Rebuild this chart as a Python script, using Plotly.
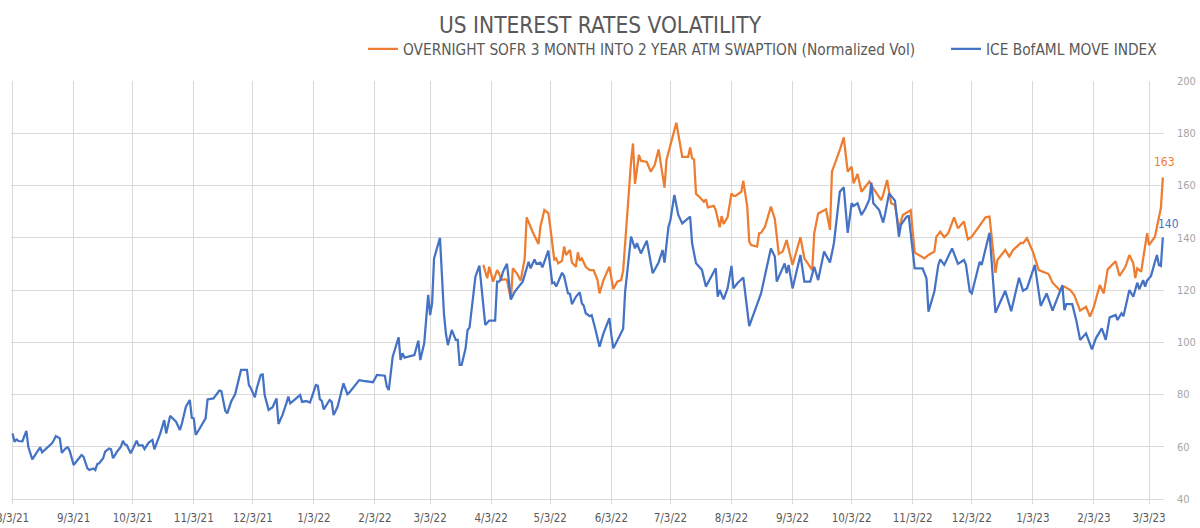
import plotly.graph_objects as go

TITLE = "US INTEREST RATES VOLATILITY"
SWAPTION_NAME = "OVERNIGHT SOFR 3 MONTH INTO 2 YEAR ATM SWAPTION (Normalized Vol)"
MOVE_NAME = "ICE BofAML MOVE INDEX"

move_dates = [
    "2021-08-03", "2021-08-04", "2021-08-05", "2021-08-06", "2021-08-08", "2021-08-10", "2021-08-11",
    "2021-08-13", "2021-08-15", "2021-08-17", "2021-08-18", "2021-08-20", "2021-08-23", "2021-08-24",
    "2021-08-25", "2021-08-27", "2021-08-28", "2021-08-30", "2021-08-31", "2021-09-01", "2021-09-03",
    "2021-09-05", "2021-09-07", "2021-09-08", "2021-09-10", "2021-09-11", "2021-09-13", "2021-09-14",
    "2021-09-15", "2021-09-16", "2021-09-18", "2021-09-19", "2021-09-21", "2021-09-22", "2021-09-23",
    "2021-09-24", "2021-09-25", "2021-09-27", "2021-09-28", "2021-09-29", "2021-09-30", "2021-10-02",
    "2021-10-03", "2021-10-05", "2021-10-06", "2021-10-08", "2021-10-09", "2021-10-11", "2021-10-13",
    "2021-10-14", "2021-10-17", "2021-10-19", "2021-10-20", "2021-10-22", "2021-10-25", "2021-10-27",
    "2021-10-28", "2021-10-29", "2021-10-30", "2021-11-01", "2021-11-02", "2021-11-03", "2021-11-04",
    "2021-11-06", "2021-11-09", "2021-11-10", "2021-11-13", "2021-11-16", "2021-11-17", "2021-11-19",
    "2021-11-20", "2021-11-22", "2021-11-24", "2021-11-27", "2021-11-30", "2021-12-01", "2021-12-02",
    "2021-12-04", "2021-12-05", "2021-12-07", "2021-12-08", "2021-12-09", "2021-12-11", "2021-12-13",
    "2021-12-15", "2021-12-16", "2021-12-18", "2021-12-20", "2021-12-21", "2021-12-22", "2021-12-25",
    "2021-12-27", "2021-12-28", "2021-12-30", "2022-01-01", "2022-01-04", "2022-01-05", "2022-01-06",
    "2022-01-07", "2022-01-08", "2022-01-11", "2022-01-12", "2022-01-13", "2022-01-15", "2022-01-18",
    "2022-01-20", "2022-01-21", "2022-01-26", "2022-01-28", "2022-02-02", "2022-02-04", "2022-02-08",
    "2022-02-09", "2022-02-10", "2022-02-12", "2022-02-15", "2022-02-16", "2022-02-17", "2022-02-18",
    "2022-02-23", "2022-02-25", "2022-02-26", "2022-02-28", "2022-03-02", "2022-03-03", "2022-03-04",
    "2022-03-05", "2022-03-08", "2022-03-10", "2022-03-11", "2022-03-12", "2022-03-14", "2022-03-16",
    "2022-03-17", "2022-03-18", "2022-03-19", "2022-03-21", "2022-03-22", "2022-03-23", "2022-03-24",
    "2022-03-26", "2022-03-28", "2022-03-30", "2022-03-31", "2022-04-02", "2022-04-05", "2022-04-06",
    "2022-04-07", "2022-04-08", "2022-04-09", "2022-04-11", "2022-04-13", "2022-04-15", "2022-04-19",
    "2022-04-22", "2022-04-23", "2022-04-25", "2022-04-26", "2022-04-28", "2022-04-29", "2022-05-02",
    "2022-05-04", "2022-05-05", "2022-05-06", "2022-05-09", "2022-05-10", "2022-05-12", "2022-05-13",
    "2022-05-14", "2022-05-16", "2022-05-18", "2022-05-19", "2022-05-20", "2022-05-21", "2022-05-23",
    "2022-05-24", "2022-05-26", "2022-05-28", "2022-05-30", "2022-06-02", "2022-06-03", "2022-06-04",
    "2022-06-07", "2022-06-08", "2022-06-09", "2022-06-10", "2022-06-12", "2022-06-13", "2022-06-15",
    "2022-06-16", "2022-06-17", "2022-06-18", "2022-06-21", "2022-06-23", "2022-06-24", "2022-06-27",
    "2022-06-29", "2022-06-30", "2022-07-02", "2022-07-03", "2022-07-05", "2022-07-07", "2022-07-09",
    "2022-07-13", "2022-07-14", "2022-07-16", "2022-07-19", "2022-07-21", "2022-07-26", "2022-07-27",
    "2022-07-28", "2022-07-30", "2022-08-01", "2022-08-03", "2022-08-04", "2022-08-06", "2022-08-09",
    "2022-08-12", "2022-08-17", "2022-08-18", "2022-08-23", "2022-08-25", "2022-08-26", "2022-08-30",
    "2022-08-31", "2022-09-01", "2022-09-03", "2022-09-07", "2022-09-09", "2022-09-12", "2022-09-14",
    "2022-09-16", "2022-09-19", "2022-09-22", "2022-09-24", "2022-09-27", "2022-09-29", "2022-10-01",
    "2022-10-03", "2022-10-04", "2022-10-06", "2022-10-08", "2022-10-10", "2022-10-12", "2022-10-13",
    "2022-10-14", "2022-10-17", "2022-10-19", "2022-10-20", "2022-10-22", "2022-10-25", "2022-10-27",
    "2022-10-28", "2022-10-31", "2022-11-01", "2022-11-04", "2022-11-08", "2022-11-10", "2022-11-11",
    "2022-11-14", "2022-11-16", "2022-11-17", "2022-11-19", "2022-11-23", "2022-11-26", "2022-11-27",
    "2022-11-29", "2022-11-30", "2022-12-02", "2022-12-03", "2022-12-07", "2022-12-08", "2022-12-12",
    "2022-12-15", "2022-12-20", "2022-12-23", "2022-12-27", "2022-12-29", "2022-12-31", "2023-01-04",
    "2023-01-07", "2023-01-10", "2023-01-13", "2023-01-18", "2023-01-19", "2023-01-20", "2023-01-23",
    "2023-01-25", "2023-01-27", "2023-01-30", "2023-02-02", "2023-02-04", "2023-02-07", "2023-02-09",
    "2023-02-11", "2023-02-14", "2023-02-15", "2023-02-17", "2023-02-18", "2023-02-21", "2023-02-23",
    "2023-02-25", "2023-02-26", "2023-02-28", "2023-03-01", "2023-03-02", "2023-03-04", "2023-03-06",
    "2023-03-07", "2023-03-08", "2023-03-09", "2023-03-10",
]
move_values = [
    65.1, 61.9, 62.8, 62.2, 62.1, 66.1, 60.0,
    55.2, 57.5, 59.8, 57.9, 59.4, 61.3, 62.6,
    64.1, 63.2, 57.7, 59.4, 59.8, 58.5, 53.0,
    54.9, 56.8, 56.2, 51.7, 51.1, 51.7, 51.1,
    53.4, 53.7, 55.6, 58.1, 59.3, 59.0, 55.6,
    56.8, 58.1, 60.0, 62.3, 60.9, 60.6, 57.5,
    59.1, 62.3, 60.5, 60.5, 59.1, 61.5, 62.6,
    59.0, 65.1, 70.2, 65.1, 71.8, 69.6, 66.4,
    69.0, 72.1, 75.3, 77.9, 71.1, 70.9, 64.5,
    67.0, 70.9, 78.1, 78.5, 81.5, 81.3, 73.8,
    72.8, 77.3, 80.1, 89.4, 89.4, 83.6, 82.4,
    78.9, 82.4, 87.5, 87.7, 79.8, 74.1, 75.1,
    78.5, 68.7, 72.1, 76.6, 79.2, 76.6, 78.5,
    79.8, 77.2, 77.5, 76.9, 83.6, 83.3, 78.2,
    77.6, 74.3, 77.9, 77.2, 72.1, 75.3, 84.3,
    80.1, 80.8, 85.5, 85.2, 84.7, 87.5, 87.2,
    83.0, 81.7, 94.5, 101.9, 93.2, 95.8, 94.1,
    95.1, 100.6, 93.2, 99.6, 118.1, 110.4, 114.9,
    132.1, 140.0, 111.1, 103.4, 98.9, 104.7, 100.9,
    100.9, 91.3, 91.3, 97.7, 104.7, 105.6, 112.1,
    125.1, 129.3, 113.0, 106.6, 108.3, 108.3, 123.2,
    123.2, 124.2, 127.0, 130.0, 116.4, 119.4, 123.2,
    130.8, 128.3, 131.7, 130.0, 130.5, 128.7, 135.1,
    122.6, 122.9, 121.3, 126.6, 125.4, 118.7, 118.5,
    114.6, 117.4, 119.1, 114.9, 114.0, 111.1, 110.0,
    110.4, 104.7, 98.3, 103.4, 109.2, 102.8, 97.7,
    102.1, 103.4, 105.2, 119.4, 132.8, 140.4, 135.9,
    137.9, 135.9, 134.0, 138.9, 129.6, 126.4, 130.5,
    135.3, 130.5, 144.2, 146.8, 156.4, 148.7, 145.5,
    148.1, 137.9, 130.2, 127.7, 121.3, 128.3, 117.4,
    120.0, 116.4, 120.6, 129.2, 120.6, 122.6, 124.8,
    106.2, 116.2, 118.7, 135.9, 132.8, 123.2, 130.2,
    126.4, 129.6, 120.6, 133.4, 123.2, 123.2, 128.9,
    123.8, 134.7, 130.5, 137.9, 157.6, 159.3, 141.9,
    153.2, 152.2, 153.2, 148.7, 151.3, 154.7, 161.1,
    153.2, 150.6, 145.8, 149.1, 157.0, 154.2, 140.4,
    144.9, 148.1, 148.3, 128.3, 128.3, 124.5, 111.7,
    119.4, 129.6, 131.7, 129.6, 135.9, 130.0, 130.5,
    131.5, 129.8, 119.4, 118.7, 130.8, 129.6, 141.9,
    111.3, 119.7, 111.9, 124.7, 119.7, 120.6, 129.6,
    113.9, 118.7, 112.1, 121.9, 112.3, 114.6, 114.6,
    108.5, 100.9, 103.4, 97.3, 101.5, 105.3, 100.9,
    109.5, 110.4, 108.5, 111.1, 110.0, 120.0, 117.4,
    122.8, 120.3, 123.8, 121.3, 123.6, 125.4, 130.8,
    133.4, 129.6, 129.2, 140.1,
]

swaption_dates = [
    "2022-03-30", "2022-04-01", "2022-04-02", "2022-04-04", "2022-04-06", "2022-04-07", "2022-04-08",
    "2022-04-10", "2022-04-11", "2022-04-13", "2022-04-14", "2022-04-16", "2022-04-18", "2022-04-20",
    "2022-04-21", "2022-04-24", "2022-04-27", "2022-04-28", "2022-04-30", "2022-05-02", "2022-05-03",
    "2022-05-05", "2022-05-06", "2022-05-07", "2022-05-09", "2022-05-10", "2022-05-11", "2022-05-13",
    "2022-05-14", "2022-05-16", "2022-05-17", "2022-05-18", "2022-05-19", "2022-05-21", "2022-05-23",
    "2022-05-25", "2022-05-27", "2022-05-28", "2022-05-30", "2022-06-02", "2022-06-04", "2022-06-06",
    "2022-06-08", "2022-06-09", "2022-06-13", "2022-06-14", "2022-06-15", "2022-06-17", "2022-06-18",
    "2022-06-21", "2022-06-23", "2022-06-25", "2022-06-27", "2022-06-30", "2022-07-01", "2022-07-06",
    "2022-07-09", "2022-07-12", "2022-07-13", "2022-07-14", "2022-07-15", "2022-07-16", "2022-07-18",
    "2022-07-20", "2022-07-21", "2022-07-22", "2022-07-25", "2022-07-26", "2022-07-28", "2022-07-29",
    "2022-07-30", "2022-08-01", "2022-08-03", "2022-08-04", "2022-08-05", "2022-08-08", "2022-08-09",
    "2022-08-11", "2022-08-12", "2022-08-13", "2022-08-16", "2022-08-17", "2022-08-18", "2022-08-20",
    "2022-08-23", "2022-08-25", "2022-08-27", "2022-08-29", "2022-08-31", "2022-09-03", "2022-09-07",
    "2022-09-09", "2022-09-13", "2022-09-14", "2022-09-16", "2022-09-19", "2022-09-20", "2022-09-22",
    "2022-09-23", "2022-09-27", "2022-09-29", "2022-10-01", "2022-10-03", "2022-10-04", "2022-10-06",
    "2022-10-08", "2022-10-12", "2022-10-14", "2022-10-18", "2022-10-19", "2022-10-21", "2022-10-23",
    "2022-10-25", "2022-10-27", "2022-10-29", "2022-11-02", "2022-11-04", "2022-11-07", "2022-11-09",
    "2022-11-11", "2022-11-14", "2022-11-15", "2022-11-17", "2022-11-19", "2022-11-21", "2022-11-24",
    "2022-11-26", "2022-11-27", "2022-11-29", "2022-12-01", "2022-12-03", "2022-12-10", "2022-12-12",
    "2022-12-15", "2022-12-16", "2022-12-20", "2022-12-22", "2022-12-24", "2022-12-28", "2022-12-29",
    "2022-12-31", "2023-01-03", "2023-01-06", "2023-01-11", "2023-01-13", "2023-01-17", "2023-01-19",
    "2023-01-22", "2023-01-24", "2023-01-27", "2023-01-30", "2023-02-01", "2023-02-03", "2023-02-06",
    "2023-02-08", "2023-02-10", "2023-02-13", "2023-02-14", "2023-02-16", "2023-02-19", "2023-02-21",
    "2023-02-23", "2023-02-24", "2023-02-25", "2023-02-27", "2023-03-02", "2023-03-03", "2023-03-06",
    "2023-03-08", "2023-03-09", "2023-03-10",
]
swaption_values = [
    129.6, 124.5, 128.9, 123.2, 127.6, 126.4, 123.8,
    124.1, 123.8, 116.4, 128.3, 126.4, 123.6, 132.1,
    147.8, 142.3, 137.6, 144.2, 150.6, 149.4, 144.2,
    131.7, 132.1, 130.2, 131.2, 136.6, 133.4, 135.3,
    130.5, 128.9, 134.4, 131.2, 132.1, 128.9, 127.6,
    127.6, 123.8, 118.7, 123.8, 128.9, 120.4, 123.2,
    123.8, 127.4, 169.1, 176.1, 160.6, 171.7, 169.5,
    169.0, 165.3, 167.8, 173.8, 159.2, 169.8, 184.0,
    171.0, 171.0, 174.6, 170.4, 170.0, 156.8, 155.4,
    153.8, 154.7, 151.6, 152.2, 150.6, 144.0, 148.3,
    145.3, 147.8, 157.0, 156.0, 156.0, 157.6, 161.8,
    151.9, 138.5, 137.2, 136.6, 141.7, 141.9, 144.2,
    151.9, 147.2, 133.8, 134.7, 139.1, 129.6, 140.2,
    132.1, 127.6, 141.7, 149.3, 150.6, 150.9, 143.0,
    165.3, 173.6, 178.4, 165.3, 167.2, 160.8, 164.4,
    157.6, 161.5, 158.9, 154.4, 156.4, 162.1, 153.2,
    152.5, 143.6, 148.7, 150.6, 134.3, 133.0, 132.1,
    133.4, 134.7, 140.4, 142.3, 140.2, 141.7, 147.8,
    143.6, 144.5, 146.2, 139.4, 140.4, 147.8, 148.1,
    126.6, 131.5, 135.3, 132.8, 135.3, 138.1, 137.9,
    139.8, 134.7, 127.6, 126.1, 122.8, 119.7, 121.3,
    120.0, 118.1, 112.1, 113.6, 109.8, 113.6, 121.9,
    118.7, 127.9, 130.2, 131.0, 125.4, 128.9, 133.4,
    130.2, 124.6, 128.3, 127.0, 141.7, 137.2, 140.4,
    147.8, 151.3, 163.1,
]

tick_dates = [
    "2021-08-03", "2021-09-03", "2021-10-03", "2021-11-03", "2021-12-03", "2022-01-03",
    "2022-02-03", "2022-03-03", "2022-04-03", "2022-05-03", "2022-06-03", "2022-07-03",
    "2022-08-03", "2022-09-03", "2022-10-03", "2022-11-03", "2022-12-03", "2023-01-03",
    "2023-02-03", "2023-03-03",
]
tick_labels = [
    "8/3/21", "9/3/21", "10/3/21", "11/3/21", "12/3/21", "1/3/22",
    "2/3/22", "3/3/22", "4/3/22", "5/3/22", "6/3/22", "7/3/22",
    "8/3/22", "9/3/22", "10/3/22", "11/3/22", "12/3/22", "1/3/23",
    "2/3/23", "3/3/23",
]

ORANGE = "#ED7D31"
BLUE = "#4472C4"
FONT = "DejaVu Sans Condensed, Liberation Sans Narrow, Roboto, sans-serif"

fig = go.Figure()
fig.add_trace(go.Scatter(x=swaption_dates, y=swaption_values, mode="lines",
                         name=SWAPTION_NAME, legend="legend",
                         line=dict(color=ORANGE, width=2.25)))
fig.add_trace(go.Scatter(x=move_dates, y=move_values, mode="lines",
                         name=MOVE_NAME, legend="legend2",
                         line=dict(color=BLUE, width=2.25)))

fig.add_annotation(x=swaption_dates[-1], y=swaption_values[-1], xref="x", yref="y",
                   text=f"{swaption_values[-1]:.0f}", showarrow=False, yshift=15, xshift=2,
                   font=dict(color=ORANGE, size=12, family=FONT))
fig.add_annotation(x=move_dates[-1], y=move_values[-1], xref="x", yref="y",
                   text=f"{move_values[-1]:.0f}", showarrow=False, yshift=13, xshift=6,
                   font=dict(color=BLUE, size=12, family=FONT))

legend_common = dict(orientation="h", yanchor="middle", y=1.0766, xanchor="left",
                     font=dict(size=15.3, color="#595959", family=FONT),
                     bgcolor="rgba(0,0,0,0)", borderwidth=0)

fig.update_layout(
    width=1200, height=528,
    margin=dict(l=11, r=36, t=81, b=29, autoexpand=False),
    paper_bgcolor="white", plot_bgcolor="white",
    font=dict(family=FONT, color="#595959"),
    title=dict(text=TITLE, x=0.5, xanchor="center", y=0.953, yanchor="middle",
               font=dict(size=22.5, color="#595959", family=FONT)),
    showlegend=True,
    legend=dict(x=0.3053, **legend_common),
    legend2=dict(x=0.8109, **legend_common),
    xaxis=dict(
        type="date", automargin=False,
        range=["2021-08-02 05:00", "2023-03-10 14:00"],
        tickmode="array", tickvals=tick_dates, ticktext=tick_labels,
        showgrid=True, gridcolor="#d9d9d9", gridwidth=1,
        showline=True, linecolor="#d9d9d9", linewidth=1,
        ticks="outside", ticklen=4, tickcolor="#d9d9d9",
        ticklabelstandoff=4, ticklabeloverflow="allow",
        tickfont=dict(size=11.5, color="#595959", family=FONT),
        zeroline=False,
    ),
    yaxis=dict(
        range=[40, 200], dtick=20, tick0=40, side="right", automargin=False,
        showgrid=True, gridcolor="#d9d9d9", gridwidth=1,
        showline=False, zeroline=False,
        ticks="", ticklabelstandoff=12,
        tickfont=dict(size=11, color="#a6a6a6", family=FONT),
    ),
)

fig.write_html("out.html")
